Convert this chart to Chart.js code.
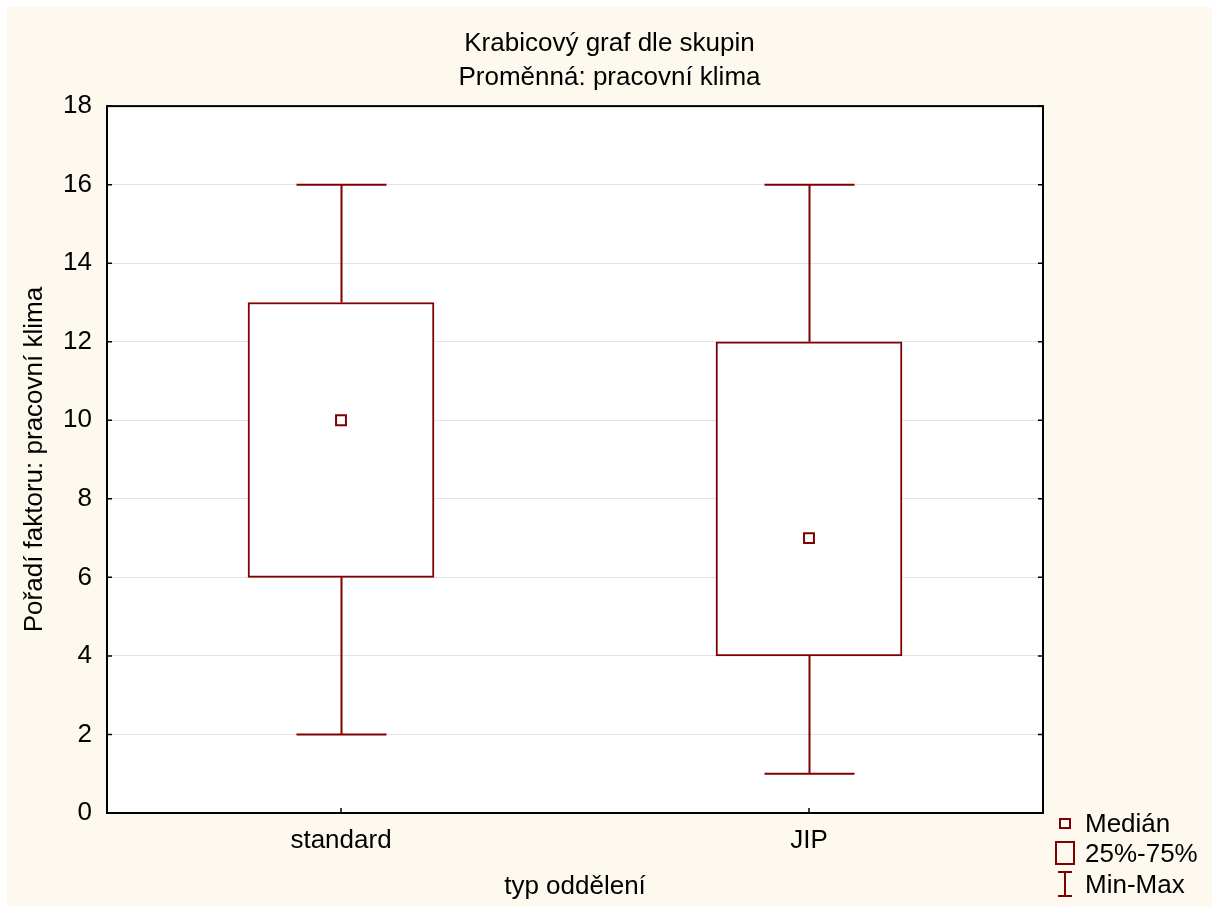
<!DOCTYPE html>
<html>
<head>
<meta charset="utf-8">
<script src="https://cdn.jsdelivr.net/npm/chart.js@4/dist/chart.umd.min.js"></script>
<style>
  html, body { margin: 0; padding: 0; background: #fff; }
  #wrap { position: absolute; left: 7px; top: 7px; width: 1205px; height: 899px; }
</style>
</head>
<body>
<div id="wrap"><canvas id="boxChart"></canvas></div>
<script>
const categories = ['standard', 'JIP'];
const minVals = [2, 1];
const q1Vals = [6, 4];
const medianVals = [10, 7];
const q3Vals = [13, 12];
const maxVals = [16, 16];
const legendLabels = ['Medián', '25%-75%', 'Min-Max'];

const RED = '#800000';
const FONT = 'Arial, "Liberation Sans", sans-serif';

// background, plot frame, whiskers, inner ticks, legend
const statPlugin = {
  id: 'statPlugin',
  beforeDraw(chart) {
    const { ctx, chartArea: a } = chart;
    ctx.save();
    ctx.fillStyle = '#fef9ef';
    ctx.fillRect(0, 0, chart.width, chart.height);
    ctx.fillStyle = '#ffffff';
    ctx.fillRect(a.left, a.top, a.right - a.left, a.bottom - a.top);
    ctx.restore();
  },
  beforeDatasetsDraw(chart) {
    const { ctx } = chart;
    const x = chart.scales.x, y = chart.scales.y;
    ctx.save();
    ctx.strokeStyle = RED;
    ctx.lineWidth = 2;
    categories.forEach((c, i) => {
      const cx = Math.round(x.getPixelForValue(i)) + 0.5;
      const half = 45;
      ctx.beginPath();
      ctx.moveTo(cx, y.getPixelForValue(maxVals[i]));
      ctx.lineTo(cx, y.getPixelForValue(q3Vals[i]));
      ctx.moveTo(cx, y.getPixelForValue(q1Vals[i]));
      ctx.lineTo(cx, y.getPixelForValue(minVals[i]));
      ctx.moveTo(cx - half, y.getPixelForValue(maxVals[i]));
      ctx.lineTo(cx + half, y.getPixelForValue(maxVals[i]));
      ctx.moveTo(cx - half, y.getPixelForValue(minVals[i]));
      ctx.lineTo(cx + half, y.getPixelForValue(minVals[i]));
      ctx.stroke();
    });
    ctx.restore();
  },
  afterDraw(chart) {
    const { ctx, chartArea: a } = chart;
    const x = chart.scales.x, y = chart.scales.y;
    ctx.save();
    ctx.strokeStyle = '#000';
    ctx.lineWidth = 2;
    ctx.strokeRect(a.left, a.top, a.right - a.left, a.bottom - a.top);
    ctx.lineWidth = 1.5;
    ctx.beginPath();
    y.ticks.forEach(t => {
      const py = y.getPixelForValue(t.value);
      ctx.moveTo(a.left, py); ctx.lineTo(a.left + 5, py);
      ctx.moveTo(a.right, py); ctx.lineTo(a.right - 5, py);
    });
    categories.forEach((c, i) => {
      const px = x.getPixelForValue(i);
      ctx.moveTo(px, a.bottom); ctx.lineTo(px, a.bottom - 5);
    });
    ctx.stroke();

    // legend
    const lx = a.right + 13, ly = a.bottom + 6;
    ctx.strokeStyle = RED;
    ctx.lineWidth = 2;
    ctx.fillStyle = '#fff';
    ctx.fillRect(lx + 4, ly, 10, 9);
    ctx.strokeRect(lx + 4, ly, 10, 9);
    ctx.strokeRect(lx, ly + 23, 18, 22);
    ctx.beginPath();
    ctx.moveTo(lx + 2, ly + 53); ctx.lineTo(lx + 16, ly + 53);
    ctx.moveTo(lx + 9, ly + 53); ctx.lineTo(lx + 9, ly + 77);
    ctx.moveTo(lx + 2, ly + 77); ctx.lineTo(lx + 16, ly + 77);
    ctx.stroke();
    ctx.fillStyle = '#000';
    ctx.font = '26px ' + FONT;
    ctx.textBaseline = 'middle';
    ctx.fillText(legendLabels[0], lx + 29, ly + 6);
    ctx.fillText(legendLabels[1], lx + 29, ly + 36);
    ctx.fillText(legendLabels[2], lx + 29, ly + 67);
    ctx.restore();
  }
};

new Chart(document.getElementById('boxChart'), {
  data: {
    labels: categories,
    datasets: [
      {
        type: 'line',
        label: legendLabels[0],
        data: medianVals,
        showLine: false,
        pointStyle: 'rect',
        pointRadius: 7,
        pointHoverRadius: 7,
        pointBorderWidth: 2,
        pointBorderColor: RED,
        pointBackgroundColor: '#fff',
        order: 0
      },
      {
        type: 'bar',
        label: legendLabels[1],
        data: categories.map((c, i) => [q1Vals[i], q3Vals[i]]),
        backgroundColor: '#fff',
        borderColor: RED,
        borderWidth: 2,
        borderSkipped: false,
        barThickness: 186,
        order: 1
      }
    ]
  },
  options: {
    responsive: true,
    maintainAspectRatio: false,
    animation: false,
    layout: { padding: 0 },
    plugins: {
      legend: { display: false },
      tooltip: { enabled: false },
      title: {
        display: true,
        text: ['Krabicový graf dle skupin', 'Proměnná: pracovní klima'],
        color: '#000',
        font: { family: FONT, size: 26, weight: 'normal', lineHeight: 1.31 },
        padding: { top: 20, bottom: 11 }
      }
    },
    scales: {
      x: {
        grid: { display: false, drawTicks: false },
        border: { display: false },
        ticks: { color: '#000', padding: 12, font: { family: FONT, size: 26 } },
        title: {
          display: true, text: 'typ oddělení', color: '#000',
          font: { family: FONT, size: 26 }, padding: { top: 0, bottom: 4 }
        },
        afterFit(s) { s.height = 93; }
      },
      y: {
        min: 0, max: 18,
        grid: { color: '#e2e2e2', lineWidth: 1, drawTicks: false },
        border: { display: false },
        ticks: { stepSize: 2, color: '#000', padding: 15, font: { family: FONT, size: 26 } },
        title: {
          display: true, text: 'Pořadí faktoru: pracovní klima', color: '#000',
          font: { family: FONT, size: 26 }, padding: { top: 12, bottom: 0 }
        },
        afterFit(s) { s.width = 100; }
      },
      // empty right-hand strip that holds the legend
      yRight: {
        position: 'right',
        min: 0, max: 18,
        grid: { display: false, drawTicks: false },
        border: { display: false },
        ticks: { display: false },
        afterFit(s) { s.width = 169; }
      }
    }
  },
  plugins: [statPlugin]
});
</script>
</body>
</html>
